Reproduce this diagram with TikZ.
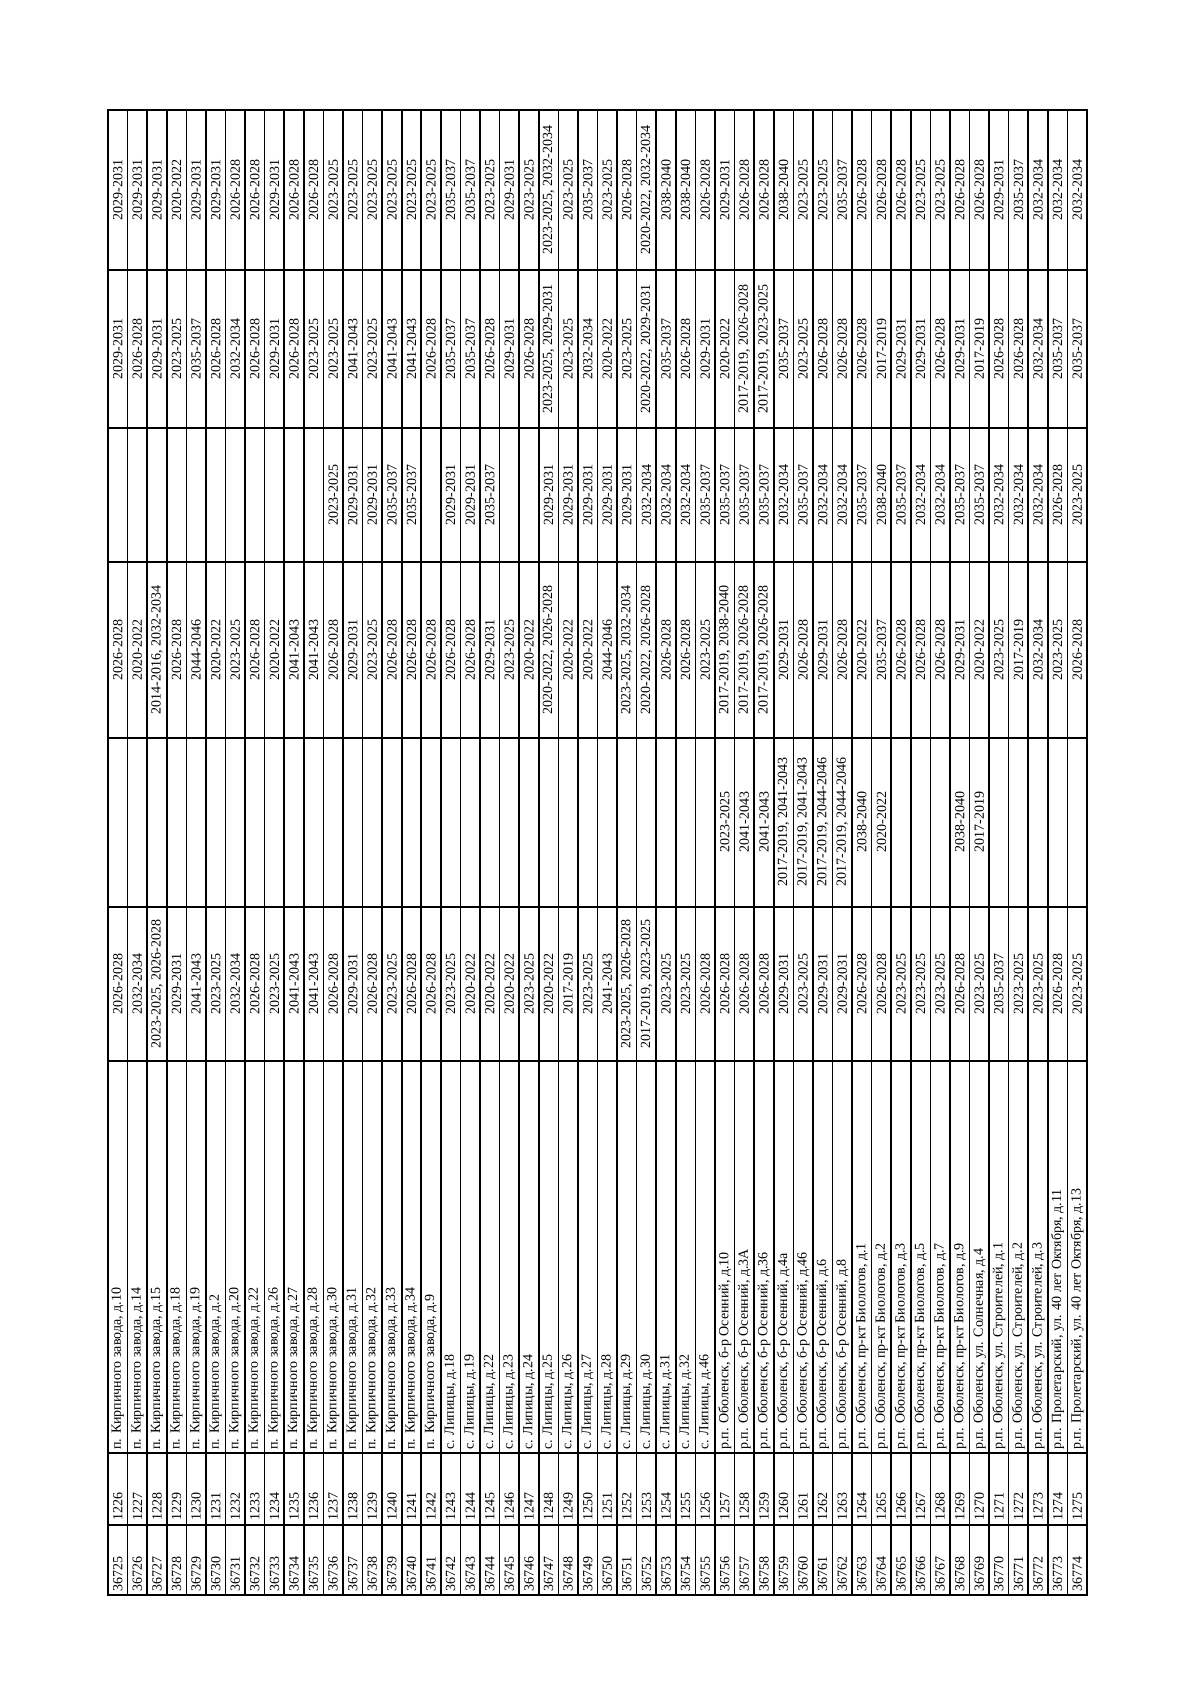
\documentclass[tikz,border=0pt]{standalone}
\usepackage{fontspec}
\setmainfont{Liberation Serif}

\tikzset{
    cell/.style={rotate=90, inner sep=0pt, font=\fontsize{7}{8}\selectfont},
    lcell/.style={cell, anchor=west},
    rule/.style={line width=0.8pt}
}

\begin{document}
\begin{tikzpicture}[x=0.5pt, y=-0.5pt]

                \useasboundingbox (0,0) rectangle (1200,1697);

                % frame and column borders
                \draw[rule] (108,110) rectangle (1087,1595);
                \foreach \y in {270,428,562,738,907,1061,1453,1525}
                    \draw[rule] (108,\y) -- (1087,\y);
                \foreach \k in {1,...,49}
                    \draw[rule] ({108+19.58*\k},110) -- ({108+19.58*\k},1595);

                % rows
                \foreach \adr/\ca/\cb/\cc/\cd/\ce/\cf [count=\i from 0] in {%
                {п. Кирпичного завода, д.10}/2026-2028/{}/2026-2028/{}/2029-2031/2029-2031,
                {п. Кирпичного завода, д.14}/2032-2034/{}/2020-2022/{}/2026-2028/2029-2031,
                {п. Кирпичного завода, д.15}/{2023-2025, 2026-2028}/{}/{2014-2016, 2032-2034}/{}/2029-2031/2029-2031,
                {п. Кирпичного завода, д.18}/2029-2031/{}/2026-2028/{}/2023-2025/2020-2022,
                {п. Кирпичного завода, д.19}/2041-2043/{}/2044-2046/{}/2035-2037/2029-2031,
                {п. Кирпичного завода, д.2}/2023-2025/{}/2020-2022/{}/2026-2028/2029-2031,
                {п. Кирпичного завода, д.20}/2032-2034/{}/2023-2025/{}/2032-2034/2026-2028,
                {п. Кирпичного завода, д.22}/2026-2028/{}/2026-2028/{}/2026-2028/2026-2028,
                {п. Кирпичного завода, д.26}/2023-2025/{}/2020-2022/{}/2029-2031/2029-2031,
                {п. Кирпичного завода, д.27}/2041-2043/{}/2041-2043/{}/2026-2028/2026-2028,
                {п. Кирпичного завода, д.28}/2041-2043/{}/2041-2043/{}/2023-2025/2026-2028,
                {п. Кирпичного завода, д.30}/2026-2028/{}/2026-2028/2023-2025/2023-2025/2023-2025,
                {п. Кирпичного завода, д.31}/2029-2031/{}/2029-2031/2029-2031/2041-2043/2023-2025,
                {п. Кирпичного завода, д.32}/2026-2028/{}/2023-2025/2029-2031/2023-2025/2023-2025,
                {п. Кирпичного завода, д.33}/2023-2025/{}/2026-2028/2035-2037/2041-2043/2023-2025,
                {п. Кирпичного завода, д.34}/2026-2028/{}/2026-2028/2035-2037/2041-2043/2023-2025,
                {п. Кирпичного завода, д.9}/2026-2028/{}/2026-2028/{}/2026-2028/2023-2025,
                {с. Липицы, д.18}/2023-2025/{}/2026-2028/2029-2031/2035-2037/2035-2037,
                {с. Липицы, д.19}/2020-2022/{}/2026-2028/2029-2031/2035-2037/2035-2037,
                {с. Липицы, д.22}/2020-2022/{}/2029-2031/2035-2037/2026-2028/2023-2025,
                {с. Липицы, д.23}/2020-2022/{}/2023-2025/{}/2029-2031/2029-2031,
                {с. Липицы, д.24}/2023-2025/{}/2020-2022/{}/2026-2028/2023-2025,
                {с. Липицы, д.25}/2020-2022/{}/{2020-2022, 2026-2028}/2029-2031/{2023-2025, 2029-2031}/{2023-2025, 2032-2034},
                {с. Липицы, д.26}/2017-2019/{}/2020-2022/2029-2031/2023-2025/2023-2025,
                {с. Липицы, д.27}/2023-2025/{}/2020-2022/2029-2031/2032-2034/2035-2037,
                {с. Липицы, д.28}/2041-2043/{}/2044-2046/2029-2031/2020-2022/2023-2025,
                {с. Липицы, д.29}/{2023-2025, 2026-2028}/{}/{2023-2025, 2032-2034}/2029-2031/2023-2025/2026-2028,
                {с. Липицы, д.30}/{2017-2019, 2023-2025}/{}/{2020-2022, 2026-2028}/2032-2034/{2020-2022, 2029-2031}/{2020-2022, 2032-2034},
                {с. Липицы, д.31}/2023-2025/{}/2026-2028/2032-2034/2035-2037/2038-2040,
                {с. Липицы, д.32}/2023-2025/{}/2026-2028/2032-2034/2026-2028/2038-2040,
                {с. Липицы, д.46}/2026-2028/{}/2023-2025/2035-2037/2029-2031/2026-2028,
                {р.п. Оболенск, б-р Осенний, д.10}/2026-2028/2023-2025/{2017-2019, 2038-2040}/2035-2037/2020-2022/2029-2031,
                {р.п. Оболенск, б-р Осенний, д.3А}/2026-2028/2041-2043/{2017-2019, 2026-2028}/2035-2037/{2017-2019, 2026-2028}/2026-2028,
                {р.п. Оболенск, б-р Осенний, д.36}/2026-2028/2041-2043/{2017-2019, 2026-2028}/2035-2037/{2017-2019, 2023-2025}/2026-2028,
                {р.п. Оболенск, б-р Осенний, д.4а}/2029-2031/{2017-2019, 2041-2043}/2029-2031/2032-2034/2035-2037/2038-2040,
                {р.п. Оболенск, б-р Осенний, д.46}/2023-2025/{2017-2019, 2041-2043}/2026-2028/2035-2037/2023-2025/2023-2025,
                {р.п. Оболенск, б-р Осенний, д.6}/2029-2031/{2017-2019, 2044-2046}/2029-2031/2032-2034/2026-2028/2023-2025,
                {р.п. Оболенск, б-р Осенний, д.8}/2029-2031/{2017-2019, 2044-2046}/2026-2028/2032-2034/2026-2028/2035-2037,
                {р.п. Оболенск, пр-кт Биологов, д.1}/2026-2028/2038-2040/2020-2022/2035-2037/2026-2028/2026-2028,
                {р.п. Оболенск, пр-кт Биологов, д.2}/2026-2028/2020-2022/2035-2037/2038-2040/2017-2019/2026-2028,
                {р.п. Оболенск, пр-кт Биологов, д.3}/2023-2025/{}/2026-2028/2035-2037/2029-2031/2026-2028,
                {р.п. Оболенск, пр-кт Биологов, д.5}/2023-2025/{}/2026-2028/2032-2034/2029-2031/2023-2025,
                {р.п. Оболенск, пр-кт Биологов, д.7}/2023-2025/{}/2026-2028/2032-2034/2026-2028/2023-2025,
                {р.п. Оболенск, пр-кт Биологов, д.9}/2026-2028/2038-2040/2029-2031/2035-2037/2029-2031/2026-2028,
                {р.п. Оболенск, ул. Солнечная, д.4}/2023-2025/2017-2019/2020-2022/2035-2037/2017-2019/2026-2028,
                {р.п. Оболенск, ул. Строителей, д.1}/2035-2037/{}/2023-2025/2032-2034/2026-2028/2029-2031,
                {р.п. Оболенск, ул. Строителей, д.2}/2023-2025/{}/2017-2019/2032-2034/2026-2028/2035-2037,
                {р.п. Оболенск, ул. Строителей, д.3}/2023-2025/{}/2032-2034/2032-2034/2032-2034/2032-2034,
                {р.п. Пролетарский, ул. 40 лет Октября, д.11}/2026-2028/{}/2023-2025/2026-2028/2035-2037/2032-2034,
                {р.п. Пролетарский, ул. 40 лет Октября, д.13}/2023-2025/{}/2026-2028/2023-2025/2035-2037/2032-2034%
                }{
                    \edef\id{\the\numexpr36725+\i\relax}
                    \edef\no{\the\numexpr1226+\i\relax}
                    \pgfmathsetmacro\xc{108+19.58*(\i+0.5)}
                    % left aligned cells
                    \node[lcell] (id\i) at (\xc,1592) {\id};
                    \node[lcell] (no\i) at (\xc,1521) {\no};
                    \node[lcell] (adr\i) at (\xc,1450) {\adr};
                    % centred year cells
                    \node[cell] (ca\i) at (\xc,984) {\ca};
                    \node[cell] (cb\i) at (\xc,822) {\cb};
                    \node[cell] (cc\i) at (\xc,650) {\cc};
                    \node[cell] (cd\i) at (\xc,495) {\cd};
                    \node[cell] (ce\i) at (\xc,349) {\ce};
                    \node[cell] (cf\i) at (\xc,190) {\cf};
                }

            \end{tikzpicture}
\end{document}
